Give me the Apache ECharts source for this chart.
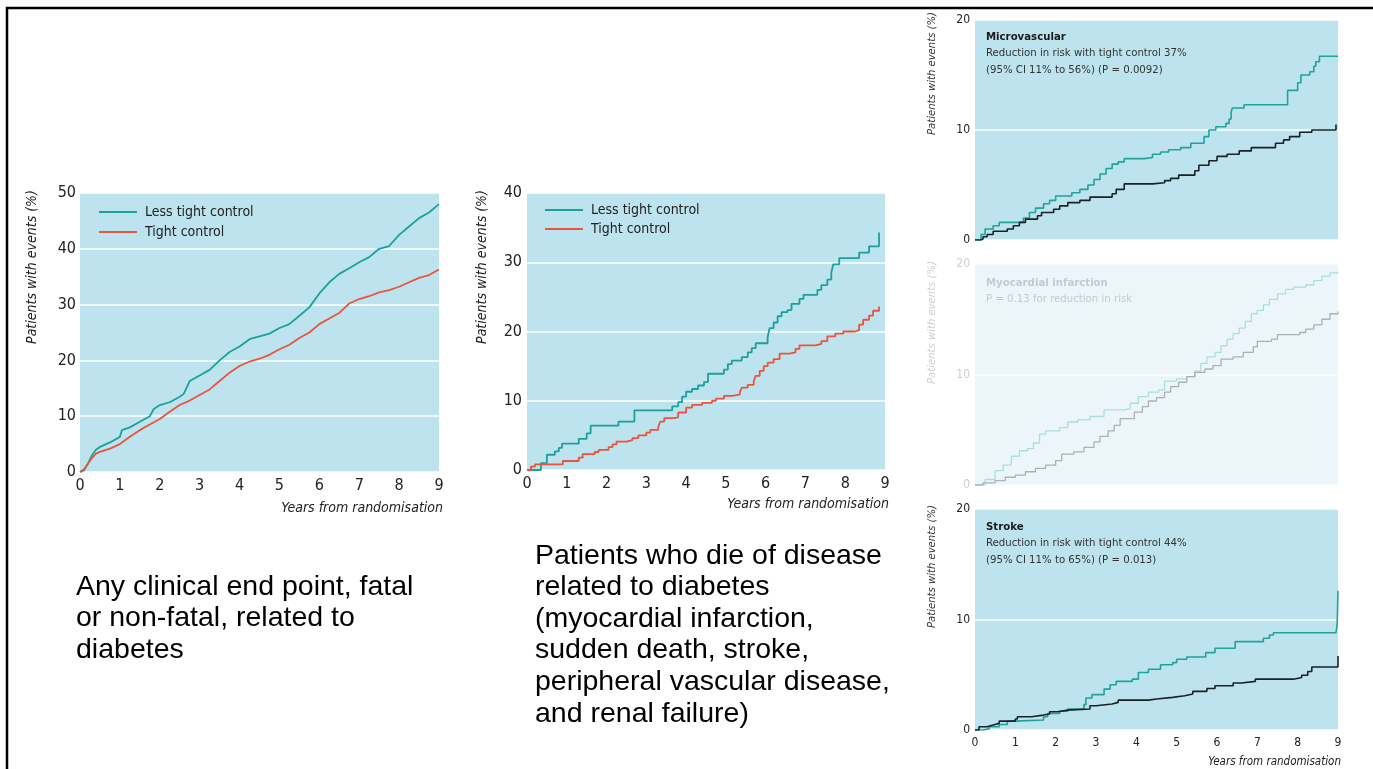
<!DOCTYPE html>
<html>
<head>
<meta charset="utf-8">
<script src="https://cdn.jsdelivr.net/npm/echarts@6/dist/echarts.min.js"></script>
<style>
html,body{margin:0;padding:0;background:#fff;}
#c{width:1373px;height:769px;}
</style>
</head>
<body>
<div id="c"></div>
<script>
// ---------- DATA ----------
// Panel A: any diabetes-related end point  [years, % with events]
const anyLessTight = [[0,0],[0.1,0.3],[0.2,1.5],[0.3,3],[0.4,4],[0.5,4.5],[0.75,5.3],[1.0,6.3],[1.05,7.5],[1.25,8],[1.5,9],[1.75,10],[1.85,11.3],[2.0,12],[2.25,12.5],[2.5,13.5],[2.6,14],[2.75,16.3],[3.0,17.3],[3.25,18.3],[3.5,20],[3.75,21.5],[4.0,22.5],[4.25,23.8],[4.5,24.3],[4.75,24.8],[5.0,25.8],[5.25,26.5],[5.5,28],[5.75,29.5],[6.0,32],[6.25,34],[6.5,35.5],[6.75,36.5],[7.0,37.6],[7.25,38.5],[7.5,40],[7.75,40.5],[8.0,42.5],[8.25,44],[8.5,45.5],[8.75,46.5],[9.0,48]];
const anyTight = [[0,0],[0.1,0.5],[0.2,1.5],[0.3,2.5],[0.4,3.3],[0.5,3.6],[0.75,4.2],[1.0,5],[1.25,6.3],[1.5,7.5],[1.75,8.5],[2.0,9.5],[2.25,10.8],[2.5,12],[2.75,12.8],[3.0,13.8],[3.25,14.8],[3.5,16.3],[3.75,17.8],[4.0,19],[4.25,19.8],[4.5,20.3],[4.75,21],[5.0,22],[5.25,22.8],[5.5,24],[5.75,25],[6.0,26.5],[6.25,27.5],[6.5,28.5],[6.75,30.2],[7.0,31],[7.25,31.5],[7.5,32.2],[7.75,32.6],[8.0,33.2],[8.25,34],[8.5,34.8],[8.75,35.3],[9.0,36.3]];

// Panel B: diabetes-related deaths (step curves)
const deathLessTight = [[0,0],[0.35,1.0],[0.5,2.2],[0.7,2.7],[0.8,3.2],[0.88,3.8],[1.3,4.5],[1.5,5.3],[1.6,6.4],[2.3,7],[2.7,8.6],[3.65,9.2],[3.8,9.8],[3.9,10.6],[4.0,11.3],[4.15,11.7],[4.3,12.2],[4.45,12.7],[4.55,13.9],[4.95,14.5],[5.05,15.3],[5.15,15.8],[5.4,16.3],[5.55,17],[5.65,17.6],[5.75,18.3],[6.05,19.2],[6.1,20.5],[6.2,21.3],[6.3,22.2],[6.4,22.8],[6.55,23.1],[6.65,24],[6.85,24.7],[6.95,25.3],[7.3,26],[7.4,26.7],[7.55,27.5],[7.65,28.5],[7.7,29.7],[7.85,30.6],[8.35,31.4],[8.6,32.3],[8.85,34.3]];
const deathTight = [[0,0],[0.1,0.5],[0.2,0.8],[0.9,1.3],[1.3,1.8],[1.4,2.3],[1.7,2.6],[1.8,2.9],[2.05,3.3],[2.15,3.7],[2.25,4.1],[2.5,4.3],[2.65,4.6],[2.8,5.0],[3.0,5.4],[3.1,5.8],[3.3,6.2],[3.35,7.0],[3.45,7.5],[3.7,7.6],[3.8,8.3],[4.0,9.0],[4.15,9.4],[4.4,9.7],[4.65,10.0],[4.75,10.3],[4.95,10.7],[5.15,10.9],[5.35,11.2],[5.4,11.9],[5.55,12.3],[5.7,12.8],[5.75,13.6],[5.85,14.3],[5.95,15.0],[6.05,15.5],[6.2,16.0],[6.35,16.8],[6.6,17.0],[6.75,17.5],[6.85,18.0],[7.25,18.2],[7.4,18.6],[7.55,19.3],[7.75,19.7],[7.95,20.0],[8.25,20.2],[8.35,21.0],[8.45,21.7],[8.6,22.3],[8.7,23.0],[8.85,23.6]];

// Panel C: microvascular
const microLessTight = [[0,0],[0.15,0.5],[0.25,1.0],[0.45,1.3],[0.6,1.6],[1.2,2.0],[1.35,2.5],[1.5,2.9],[1.7,3.3],[1.85,3.6],[2.0,4.0],[2.4,4.3],[2.6,4.6],[2.8,5.0],[2.95,5.5],[3.1,6.0],[3.25,6.5],[3.4,6.9],[3.55,7.1],[3.7,7.4],[4.2,7.5],[4.4,7.8],[4.6,8.0],[4.8,8.2],[5.1,8.4],[5.35,8.8],[5.68,9.4],[5.8,10.0],[5.97,10.3],[6.22,10.6],[6.3,11.0],[6.35,11.6],[6.38,12.0],[6.67,12.3],[7.75,13.6],[8.0,14.3],[8.08,15.0],[8.3,15.3],[8.4,15.8],[8.45,16.2],[8.54,16.7],[9.0,16.7]];
const microTight = [[0,0],[0.15,0.1],[0.2,0.3],[0.3,0.5],[0.45,0.8],[0.8,1.0],[0.95,1.3],[1.1,1.6],[1.25,1.9],[1.55,2.2],[1.65,2.5],[1.95,2.8],[2.1,3.1],[2.3,3.4],[2.6,3.6],[2.85,3.9],[3.4,4.2],[3.5,4.6],[3.7,5.1],[4.4,5.2],[4.7,5.4],[4.85,5.6],[5.05,5.9],[5.45,6.3],[5.55,6.8],[5.8,7.2],[6.0,7.6],[6.25,7.8],[6.55,8.1],[6.85,8.4],[7.45,8.8],[7.65,9.1],[7.8,9.4],[8.05,9.8],[8.35,10.0],[8.95,10.5]];

// Panel D: myocardial infarction
const miLessTight = [[0,0],[0.25,0.5],[0.5,1.3],[0.7,1.8],[0.9,2.6],[1.1,3.1],[1.3,3.3],[1.45,3.8],[1.6,4.6],[1.75,4.9],[2.1,5.2],[2.3,5.7],[2.55,5.9],[2.85,6.2],[3.2,6.8],[3.7,6.9],[3.85,7.4],[4.05,8.0],[4.3,8.4],[4.55,8.6],[4.7,9.4],[5.0,9.6],[5.25,9.8],[5.45,10.3],[5.6,11.0],[5.75,11.6],[5.95,12.0],[6.1,12.6],[6.25,13.2],[6.4,13.7],[6.55,14.2],[6.7,14.8],[6.85,15.5],[7.0,15.8],[7.15,16.3],[7.3,16.8],[7.5,17.3],[7.7,17.7],[7.9,17.9],[8.2,18.1],[8.4,18.5],[8.6,18.9],[8.8,19.2],[9.0,19.3]];
const miTight = [[0,0],[0.2,0.2],[0.5,0.4],[0.75,0.7],[1.0,0.9],[1.25,1.2],[1.5,1.5],[1.75,1.8],[2.0,2.2],[2.15,2.8],[2.45,3.0],[2.7,3.4],[2.95,3.9],[3.1,4.4],[3.3,4.9],[3.45,5.4],[3.6,6.0],[3.95,6.6],[4.15,7.1],[4.3,7.6],[4.5,7.9],[4.7,8.4],[4.85,8.9],[5.05,9.3],[5.25,9.8],[5.45,10.2],[5.7,10.5],[5.9,10.8],[6.1,11.4],[6.4,11.6],[6.65,12.0],[6.9,12.5],[7.0,13.0],[7.35,13.2],[7.5,13.6],[8.05,13.8],[8.2,14.1],[8.4,14.5],[8.6,15.0],[8.8,15.5],[9.0,15.7]];

// Panel E: stroke
const strokeLessTight = [[0,0],[0.2,0.1],[0.35,0.3],[0.6,0.5],[0.8,0.8],[1.0,0.9],[1.7,1.2],[1.8,1.5],[2.1,1.7],[2.3,1.9],[2.7,2.3],[2.75,2.9],[2.9,3.2],[3.2,3.7],[3.35,4.1],[3.5,4.4],[3.9,4.6],[4.05,5.2],[4.3,5.5],[4.6,5.9],[4.9,6.1],[5.0,6.4],[5.25,6.6],[5.65,6.6],[5.72,7.0],[5.95,7.4],[6.45,8.0],[7.15,8.3],[7.3,8.6],[7.4,8.8],[8.95,8.8],[8.98,9.6],[9.0,12.6]];
const strokeTight = [[0,0],[0.1,0.3],[0.3,0.45],[0.45,0.6],[0.6,0.8],[1.0,1.0],[1.05,1.2],[1.4,1.35],[1.7,1.45],[1.85,1.65],[2.05,1.8],[2.3,1.9],[2.85,2.2],[3.0,2.35],[3.4,2.5],[3.55,2.7],[4.3,2.8],[4.5,2.95],[4.9,3.1],[5.2,3.25],[5.4,3.5],[5.75,3.75],[5.95,4.0],[6.4,4.25],[6.6,4.4],[6.95,4.6],[7.9,4.75],[8.1,4.95],[8.25,5.3],[8.35,5.7],[8.95,5.7],[9.0,6.7]];

const legendNames = ['Less tight control', 'Tight control'];
const panelTitles = ['Microvascular', 'Myocardial infarction', 'Stroke'];
const panelNotes = [
  ['Reduction in risk with tight control 37%', '(95% CI 11% to 56%) (P = 0.0092)'],
  ['P = 0.13 for reduction in risk'],
  ['Reduction in risk with tight control 44%', '(95% CI 11% to 65%) (P = 0.013)']
];
const captionA = 'Any clinical end point, fatal\nor non-fatal, related to\ndiabetes';
const captionB = 'Patients who die of disease\nrelated to diabetes\n(myocardial infarction,\nsudden death, stroke,\nperipheral vascular disease,\nand renal failure)';
const yAxisTitle = 'Patients with events (%)';
const xAxisTitle = 'Years from randomisation';

// ---------- STYLE ----------
const NARROW = '"Liberation Sans Narrow", "DejaVu Sans Condensed", "Liberation Sans", sans-serif';
const ARIAL = '"Liberation Sans", Arial, sans-serif';
const TEAL = '#1aa19e';
const RED = '#e8553c';
const TEAL2 = '#1fa39b';
const DARK = '#1c2127';
const BG = '#bde3ee';
const BG_FADE = '#ecf6fa';

const grids = [
  {left: 80, top: 193, width: 359, height: 279, backgroundColor: BG},
  {left: 527, top: 193, width: 358, height: 277, backgroundColor: BG},
  {left: 975, top: 20, width: 363, height: 220, backgroundColor: BG},
  {left: 975, top: 264, width: 363, height: 221, backgroundColor: BG_FADE},
  {left: 975, top: 509, width: 363, height: 221, backgroundColor: BG}
].map(g => Object.assign({show: true, borderWidth: 0}, g));

function xAx(i, showLabels, fontSize, margin, color) {
  return {
    type: 'value', gridIndex: i, min: 0, max: 9, interval: 1,
    axisLine: {show: false}, axisTick: {show: false}, splitLine: {show: false},
    axisLabel: {show: showLabels, fontFamily: NARROW, fontSize: fontSize, color: color || '#222', margin: margin}
  };
}
function yAx(i, max, fontSize, margin, color, gridColor) {
  return {
    type: 'value', gridIndex: i, min: 0, max: max, interval: 10,
    axisLine: {show: false}, axisTick: {show: false},
    splitLine: {show: true, lineStyle: {color: gridColor || '#ffffff', width: 1.5}},
    axisLabel: {fontFamily: NARROW, fontSize: fontSize, color: color || '#222', margin: margin}
  };
}

function line(name, data, xi, color, step, width) {
  return {
    type: 'line', name: name, data: data, xAxisIndex: xi, yAxisIndex: xi,
    showSymbol: false, symbol: 'none', step: step || false,
    lineStyle: {color: color, width: width || 1.6},
    itemStyle: {color: color},
    silent: true, animation: false
  };
}

function txt(x, y, text, opts) {
  return {
    type: 'text', x: x, y: y, rotation: opts.rotation || 0, silent: true,
    style: Object.assign({
      text: text, fill: '#222', fontFamily: NARROW, fontSize: 12,
      textAlign: 'left', textVerticalAlign: 'middle'
    }, opts.style || {})
  };
}

const graphics = [];
// frame
graphics.push({type: 'polyline', silent: true, shape: {points: [[7, 769], [7, 8], [1373, 8]]}, style: {stroke: '#000', lineWidth: 2.5, fill: null}});
// y axis titles
const yTitles = [
  {x: 32, y: 190, size: 14, fill: '#222'},
  {x: 482, y: 190, size: 14, fill: '#222'},
  {x: 932, y: 12, size: 11.2, fill: '#333'},
  {x: 932, y: 261, size: 11.2, fill: '#c9cfd5'},
  {x: 932, y: 505, size: 11.2, fill: '#333'}
];
yTitles.forEach(t => graphics.push(txt(t.x, t.y, yAxisTitle, {rotation: Math.PI / 2, style: {textAlign: 'right', fontStyle: 'italic', fontSize: t.size, fill: t.fill}})));
// x axis titles
graphics.push(txt(443, 508, xAxisTitle, {style: {textAlign: 'right', fontStyle: 'italic', fontSize: 14}}));
graphics.push(txt(889, 504, xAxisTitle, {style: {textAlign: 'right', fontStyle: 'italic', fontSize: 14}}));
graphics.push(txt(1341, 762, xAxisTitle, {style: {textAlign: 'right', fontStyle: 'italic', fontSize: 11.5}}));
// panel annotations
const panelTops = [37, 283, 527];
const panelColors = ['#1a1a1a', '#c3cad1', '#1a1a1a'];
const noteColors = ['#333', '#c3cad1', '#333'];
panelTitles.forEach((t, i) => {
  graphics.push(txt(986, panelTops[i], t, {style: {fontWeight: 'bold', fontSize: 11.3, fill: panelColors[i]}}));
  panelNotes[i].forEach((n, j) => graphics.push(txt(986, panelTops[i] + 16.5 * (j + 1), n, {style: {fontSize: 11.3, fill: noteColors[i]}})));
});
// captions
graphics.push(txt(76, 571, captionA, {style: {fontFamily: ARIAL, fontSize: 28.5, lineHeight: 31.5, fill: '#000', textVerticalAlign: 'top'}}));
graphics.push(txt(535, 540, captionB, {style: {fontFamily: ARIAL, fontSize: 28.5, lineHeight: 31.6, fill: '#000', textVerticalAlign: 'top'}}));

const chart = echarts.init(document.getElementById('c'), null, {renderer: 'canvas'});
chart.setOption({
  animation: false,
  backgroundColor: '#ffffff',
  grid: grids,
  xAxis: [xAx(0, true, 16, 6), xAx(1, true, 16, 6), xAx(2, false, 12, 7), xAx(3, false, 12, 7), xAx(4, true, 12, 7)],
  yAxis: [yAx(0, 50, 16, 4), yAx(1, 40, 16, 5), yAx(2, 20, 12, 5), yAx(3, 20, 12, 5, '#c9cfd5', '#f8fcfe'), yAx(4, 20, 12, 5)],
  legend: [
    {left: 99, top: 205, padding: 0, orient: 'vertical', itemWidth: 38, itemHeight: 2, itemGap: 6, icon: 'rect', selectedMode: false,
     data: legendNames, textStyle: {fontFamily: NARROW, fontSize: 14, color: '#222', padding: [0, 0, 0, 3]}},
    {left: 545, top: 203, padding: 0, orient: 'vertical', itemWidth: 38, itemHeight: 2, itemGap: 5, icon: 'rect', selectedMode: false,
     data: legendNames, textStyle: {fontFamily: NARROW, fontSize: 14, color: '#222', padding: [0, 0, 0, 3]}}
  ],
  series: [
    line(legendNames[0], anyLessTight, 0, TEAL, false, 1.8),
    line(legendNames[1], anyTight, 0, RED, false, 1.8),
    line(legendNames[0], deathLessTight, 1, TEAL, 'end', 1.8),
    line(legendNames[1], deathTight, 1, RED, 'end', 1.8),
    line('Less tight (microvascular)', microLessTight, 2, TEAL2, 'end', 1.6),
    line('Tight (microvascular)', microTight, 2, DARK, 'end', 1.6),
    line('Less tight (MI)', miLessTight, 3, '#a9dfdc', 'end', 1.3),
    line('Tight (MI)', miTight, 3, '#aab0b4', 'end', 1.3),
    line('Less tight (stroke)', strokeLessTight, 4, TEAL2, 'end', 1.6),
    line('Tight (stroke)', strokeTight, 4, DARK, 'end', 1.6)
  ],
  graphic: graphics
});
</script>
</body>
</html>
